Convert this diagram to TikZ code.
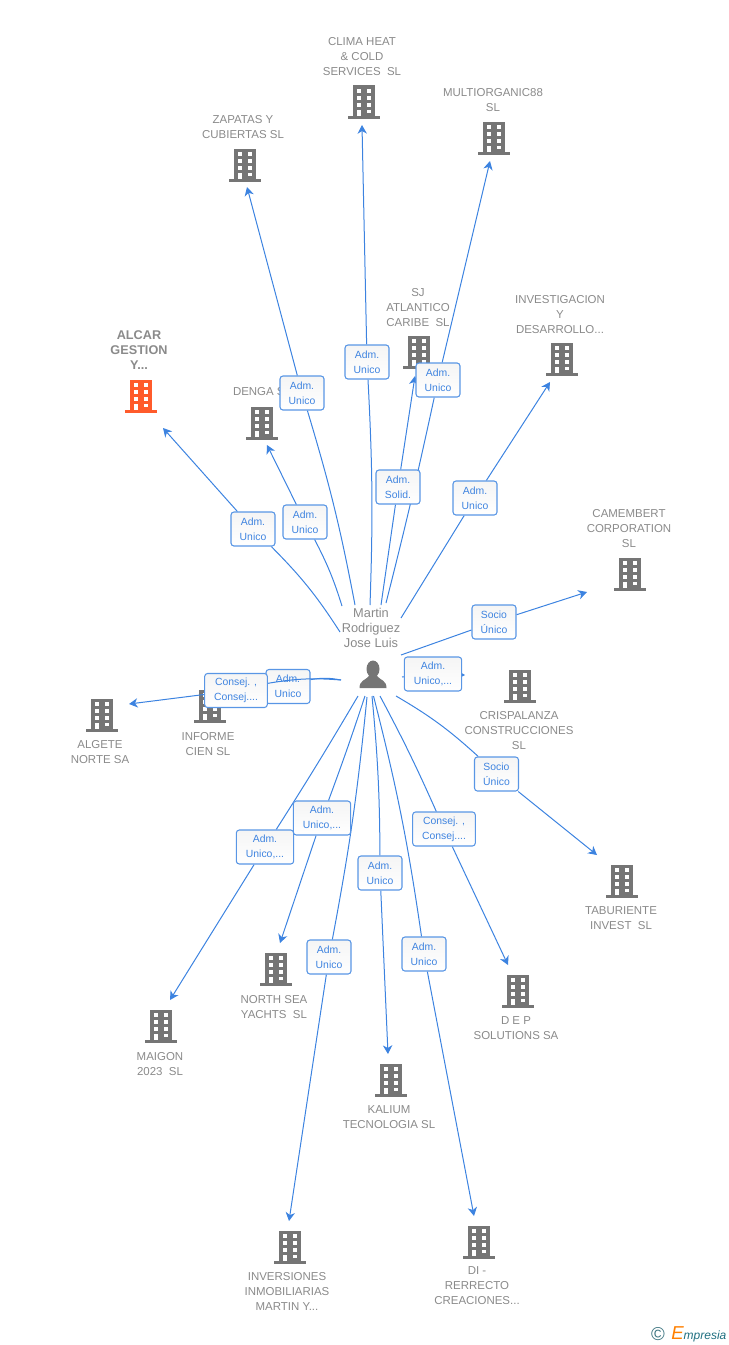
\documentclass[tikz,border=0pt]{standalone}
\usepackage{fontspec}
\setmainfont{Liberation Sans}
\usetikzlibrary{arrows.meta}
\pgfdeclarelayer{front}
\pgfsetlayers{main,front}

\definecolor{deplink}{HTML}{3C83E0}
\definecolor{deptext}{HTML}{3F84E0}
\definecolor{iconcol}{HTML}{757575}
\definecolor{maincol}{HTML}{FF5B2B}
\definecolor{namecol}{HTML}{8A8A8A}
\definecolor{logocol}{HTML}{1F6F80}

\tikzstyle{dep}=[draw=deplink, line width=0.75pt]
\tikzstyle{deptip}=[dep, -{Stealth[length=6.5pt, width=7pt, inset=2pt]}]
\tikzstyle{relbox}=[draw=deplink!85, line width=0.8pt, rounded corners=2.2pt, top color=black!4, bottom color=white,
  text=deptext, align=center, inner sep=0pt, minimum height=25.5pt,
  font=\fontsize{7.8}{11.25}\selectfont]
\tikzstyle{company}=[text=namecol, align=center, inner sep=0pt, font=\fontsize{8.6}{11.25}\selectfont]
\tikzset{pics/building/.style={code={
  \fill[#1] (-11,-16.5) rectangle (11,14);
  \fill[#1] (-15.7,13.7) rectangle (15.7,16.8);
  \foreach \wy in {-13,-6,1} {
    \fill[white] (-7,\wy) rectangle (-2.7,\wy+3.6);
    \fill[white] (2.7,\wy) rectangle (7,\wy+3.6);
  }
  \fill[white] (-7,7.5) rectangle (-2.7,13.7);
  \fill[white] (2.7,7.5) rectangle (7,11);
}}}

\begin{document}
\begin{tikzpicture}[x=0.75pt, y=-0.75pt]
  \useasboundingbox (0,0) rectangle (728,1345);

  % companies
  \foreach \n/\x/\y/\lx/\ly/\txt in {
    denga/262/423/262/392/{DENGA SL},
    zapatas/245/165/243/127/{ZAPATAS Y\\CUBIERTAS SL},
    clima/364/102/362/57/{CLIMA HEAT\\\& COLD\\SERVICES~~SL},
    multi/494/138/493/100/{MULTIORGANIC88\\SL},
    sj/419/352/418/308/{SJ\\ATLANTICO\\CARIBE~~SL},
    invest/562/359/560/315/{INVESTIGACION\\Y\\DESARROLLO...},
    camembert/630/574/629/529/{CAMEMBERT\\CORPORATION\\SL},
    crispa/520/686/519/731/{CRISPALANZA\\CONSTRUCCIONES\\SL},
    informe/210/706/208/744/{INFORME\\CIEN SL},
    algete/102/715/100/752/{ALGETE\\NORTE SA},
    maigon/161/1026/160/1064/{MAIGON\\2023~~SL},
    north/276/969/274/1007/{NORTH SEA\\YACHTS~~SL},
    inversiones/290/1247/287/1291/{INVERSIONES\\INMOBILIARIAS\\MARTIN Y...},
    kalium/391/1080/389/1117/{KALIUM\\TECNOLOGIA SL},
    di/479/1242/477/1286/{DI -\\RERRECTO\\CREACIONES...},
    dep/518/991/516/1028/{D E P\\SOLUTIONS SA},
    taburiente/622/881/621/918/{TABURIENTE\\INVEST~~SL}%
  } {
    \pic at (\x,\y) {building=iconcol};
    \node[company] (\n) at (\lx,\ly) {\txt};
  }
  \pic at (141,396) {building=maincol};
  \node[company, font=\fontsize{9.5}{11.25}\selectfont\bfseries] (alcar) at (139,350) {ALCAR\\GESTION\\Y...};

  % person
  \node[company, font=\fontsize{9.6}{11.25}\selectfont] (martin) at (371,628) {Martin\\Rodriguez\\Jose Luis};
  \fill[iconcol] (373,669) ellipse (6.5 and 8.5);
  \fill[iconcol] (359.5,688) .. controls (359.5,680) and (366,680) .. (369,676) -- (377,676)
    .. controls (380,680) and (386.5,680) .. (386.5,688) -- cycle;

  % this one runs under the line to algete
  \coordinate (informe-start) at (341,680);
  \coordinate (informe-end) at (222,690);
  \node[relbox, minimum width=33pt] (informe-box) at (288,686.5) {Adm.\\Unico};
  \draw[dep] (informe-start) to[bend right=10] (informe-box);
  \draw[deptip] (informe-box) to (informe-end);

  % relations: start, box, end
  \foreach \n/\sx/\sy/\bx/\by/\ex/\ey/\bw/\bnd/\txt in {
    alcar/340/632/253/529/163/428/33/-6/{Adm.\\Unico},
    denga/342/606/305/522/267/445/33/-5/{Adm.\\Unico},
    zapatas/355/605/302/393/247/187/33/-3/{Adm.\\Unico},
    clima/370/605/367/362/362/125/33/-2.5/{Adm.\\Unico},
    sj/381/605/398/487/415/376/33/0/{Adm.\\Solid.},
    multi/386/603/438/380/490/161/33/-1/{Adm.\\Unico},
    invest/401/618/475/498/550/382/33/0/{Adm.\\Unico},
    camembert/401/655/494/622/587/592/33/0/{Socio\\Único},
    crispa/402/677/433/674/465/675/43/0/{Adm.\\Unico,...},
    algete/341/680/236/690.5/129/704/47/-7/{Consej. ,\\Consej....},
    maigon/358/696/265/847/170/1000/43/1/{Adm.\\Unico,...},
    north/365/696/322/818/280/943/43/1/{Adm.\\Unico,...},
    inversiones/367/697/329/957/289/1221/33/2.5/{Adm.\\Unico},
    kalium/372/696/380/873/388/1054/33/2.5/{Adm.\\Unico},
    di/373.5/696/424/954/474/1216/33/3/{Adm.\\Unico},
    dep/380/696/444/829/508/965/47/2/{Consej. ,\\Consej....},
    taburiente/396/696/496.5/774/597/855/33/6/{Socio\\Único}%
  } {
    \coordinate (\n-start) at (\sx,\sy);
    \coordinate (\n-end) at (\ex,\ey);
    \begin{pgfonlayer}{front}
      \node[relbox, minimum width=\bw pt] (\n-box) at (\bx,\by) {\txt};
    \end{pgfonlayer}
    \draw[dep] (\n-start) to[bend left=\bnd] (\n-box);
    \draw[deptip] (\n-box) to (\n-end);
  }

  % logo
  \node[inner sep=0pt, text=logocol!70!gray, font=\fontsize{14}{14}\selectfont] (copyr) at (658,1334) {©};
  \node[inner sep=0pt, anchor=west, text=logocol, font=\fontsize{9}{9}\selectfont\itshape] (logo) at (671,1334)
    {\textcolor{orange}{\fontsize{14}{14}\selectfont E}mpresia};
\end{tikzpicture}
\end{document}
